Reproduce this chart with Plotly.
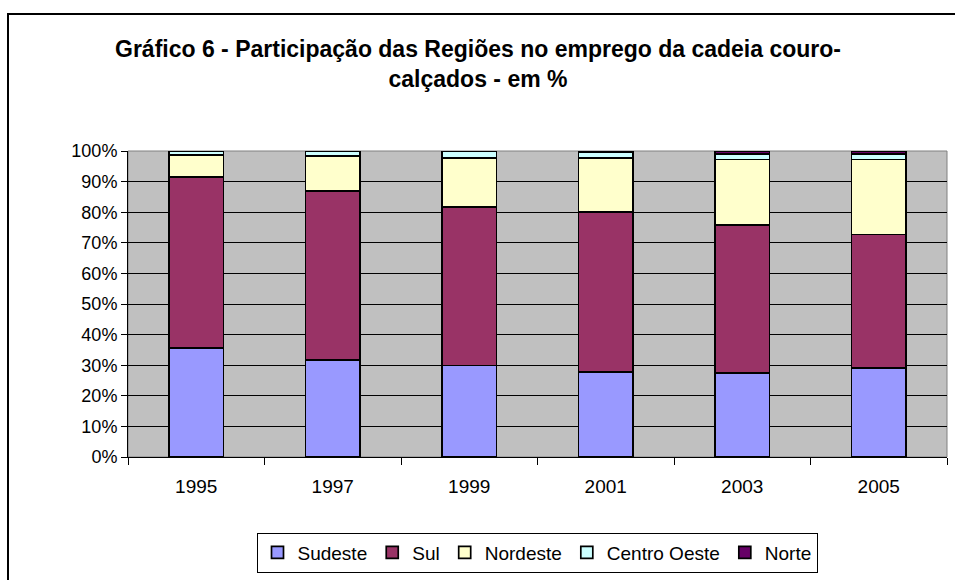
import plotly.graph_objects as go

years = ["1995", "1997", "1999", "2001", "2003", "2005"]
sudeste = [35.7, 31.8, 29.9, 27.8, 27.4, 29.1]
sul = [55.9, 55.2, 51.8, 52.2, 48.5, 43.6]
nordeste = [7.0, 11.4, 16.0, 17.7, 21.3, 24.5]
centro_oeste = [1.3, 1.4, 2.1, 2.0, 1.8, 1.8]
norte = [0.1, 0.2, 0.2, 0.3, 1.0, 1.0]

series = [
    ("Sudeste", sudeste, "#9999FF"),
    ("Sul", sul, "#993366"),
    ("Nordeste", nordeste, "#FFFFCC"),
    ("Centro Oeste", centro_oeste, "#CCFFFF"),
    ("Norte", norte, "#660066"),
]

FONT = "Arial, Liberation Sans, sans-serif"

fig = go.Figure()
for name, vals, color in series:
    fig.add_trace(go.Bar(
        x=years, y=vals, name=name,
        marker=dict(color=color, line=dict(color="black", width=1.7)),
    ))

W, H = 955, 580
L, R, T, B = 128, 8, 151, 121
pw, ph = W - L - R, H - T - B

def px_x(p):
    return (p - L) / pw

def px_y(p):
    return (H - B - p) / ph

fig.update_layout(
    width=W, height=H,
    margin=dict(l=L, r=R, t=T, b=B),
    barmode="stack",
    bargap=0.6,
    paper_bgcolor="white",
    plot_bgcolor="#C0C0C0",
    font=dict(family=FONT, size=18, color="black"),
    title=dict(
        text="<b>Gráfico 6 - Participação das Regiões no emprego da cadeia couro-<br>calçados - em %</b>",
        x=478 / W, xanchor="center", xref="container",
        y=1 - 57 / H, yanchor="top", yref="container",
        font=dict(family=FONT, size=23, color="black"),
    ),
    legend=dict(
        orientation="h",
        x=px_x(537), xanchor="center",
        y=px_y(535), yanchor="top",
        bordercolor="black", borderwidth=1,
        font=dict(family=FONT, size=19),
        traceorder="normal",
        itemwidth=30,
    ),
    xaxis=dict(
        type="category",
        showgrid=False,
        showline=True, linecolor="black", linewidth=1,
        ticks="outside", ticklen=7, tickcolor="black",
        tickson="boundaries",
        ticklabelstandoff=12,
        tickfont=dict(family=FONT, size=19),
    ),
    yaxis=dict(
        range=[0, 100],
        dtick=10,
        ticksuffix="%",
        showgrid=True, gridcolor="black", gridwidth=1,
        showline=True, linecolor="black", linewidth=1,
        ticks="outside", ticklen=6, tickcolor="black",
        tickfont=dict(family=FONT, size=18),
        zeroline=False,
    ),
    shapes=[
        dict(type="rect", xref="paper", yref="paper",
             x0=0, x1=1, y0=0, y1=1,
             line=dict(color="#808080", width=1), layer="below"),
        dict(type="rect", xref="paper", yref="paper",
             x0=px_x(8), x1=px_x(990), y0=px_y(13), y1=px_y(620),
             line=dict(color="black", width=2)),
    ],
    showlegend=True,
)

fig.write_html("out.html", post_script="document.body.style.margin='0';",
               config={"displayModeBar": False})
